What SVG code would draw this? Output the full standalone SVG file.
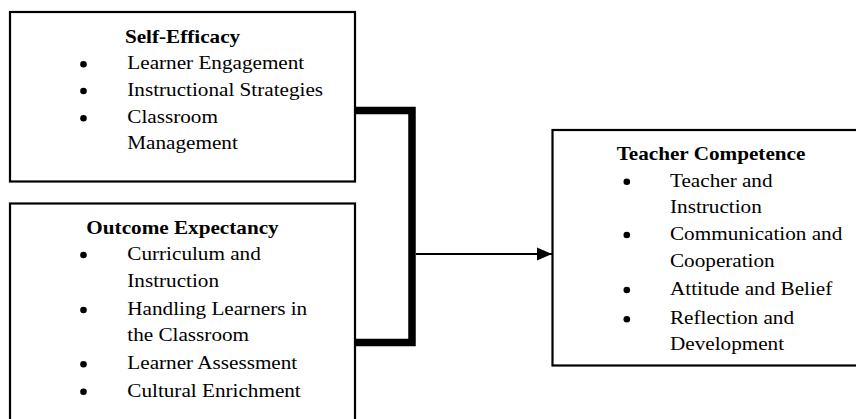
<svg xmlns="http://www.w3.org/2000/svg" width="856" height="419" viewBox="0 0 856 419">
  <style>
    .box { fill: #ffffff; stroke: #000000; stroke-width: 2.2; }
    .t { font-family: "Liberation Serif", "Times New Roman", serif; font-size: 19px; fill: #000000; }
    .h { font-weight: bold; text-anchor: middle; }
    .dot { fill: #000000; }
    .bracket { fill: none; stroke: #000000; stroke-width: 7.5; stroke-linejoin: miter; }
    .link { fill: none; stroke: #000000; stroke-width: 2; }
  </style>
  <defs>
    <marker id="arrowhead" markerWidth="16" markerHeight="14" refX="15" refY="7" orient="auto" markerUnits="userSpaceOnUse">
      <polygon points="0,0.5 15,7 0,13.5" fill="#000000"/>
    </marker>
  </defs>

  <rect x="0" y="0" width="856" height="419" fill="#ffffff"/>

  <!-- connectors: bracket joining the two source boxes and arrow into the target -->
  <g id="connectors">
    <path class="bracket" d="M355,110.5 H412 V342.5 H355"/>
    <path class="link" d="M416,254 H552" marker-end="url(#arrowhead)"/>
  </g>

  <g id="self-efficacy">
    <rect class="box" x="10" y="12" width="345" height="169.5"/>
    <text class="t h" transform="translate(182.5 42.5) scale(1.115 1)">Self-Efficacy</text>
    <circle class="dot" cx="83.5" cy="64.3" r="3.3"/>
    <text class="t" transform="translate(127.3 69.3) scale(1.115 1)">Learner Engagement</text>
    <circle class="dot" cx="83.5" cy="91" r="3.3"/>
    <text class="t" transform="translate(127.3 96) scale(1.115 1)">Instructional Strategies</text>
    <circle class="dot" cx="83.5" cy="118.3" r="3.3"/>
    <text class="t" transform="translate(127.3 123.3) scale(1.115 1)">Classroom</text>
    <text class="t" transform="translate(127.3 149.3) scale(1.115 1)">Management</text>
  </g>

  <g id="outcome-expectancy">
    <rect class="box" x="10" y="203.5" width="345" height="225"/>
    <text class="t h" transform="translate(182.5 233.5) scale(1.115 1)">Outcome Expectancy</text>
    <circle class="dot" cx="83.5" cy="255" r="3.3"/>
    <text class="t" transform="translate(127.3 260) scale(1.115 1)">Curriculum and</text>
    <text class="t" transform="translate(127.3 286.7) scale(1.115 1)">Instruction</text>
    <circle class="dot" cx="83.5" cy="310" r="3.3"/>
    <text class="t" transform="translate(127.3 315) scale(1.115 1)">Handling Learners in</text>
    <text class="t" transform="translate(127.3 341) scale(1.115 1)">the Classroom</text>
    <circle class="dot" cx="83.5" cy="364.3" r="3.3"/>
    <text class="t" transform="translate(127.3 369.3) scale(1.115 1)">Learner Assessment</text>
    <circle class="dot" cx="83.5" cy="391.7" r="3.3"/>
    <text class="t" transform="translate(127.3 396.7) scale(1.115 1)">Cultural Enrichment</text>
  </g>

  <g id="teacher-competence">
    <rect class="box" x="552.5" y="130" width="310" height="235.5"/>
    <text class="t h" transform="translate(711 160) scale(1.115 1)">Teacher Competence</text>
    <circle class="dot" cx="626.8" cy="181.7" r="3.3"/>
    <text class="t" transform="translate(670 186.7) scale(1.115 1)">Teacher and</text>
    <text class="t" transform="translate(670 212.7) scale(1.115 1)">Instruction</text>
    <circle class="dot" cx="626.8" cy="235" r="3.3"/>
    <text class="t" transform="translate(670 240) scale(1.115 1)">Communication and</text>
    <text class="t" transform="translate(670 266.7) scale(1.115 1)">Cooperation</text>
    <circle class="dot" cx="626.8" cy="290" r="3.3"/>
    <text class="t" transform="translate(670 295) scale(1.115 1)">Attitude and Belief</text>
    <circle class="dot" cx="626.8" cy="319.3" r="3.3"/>
    <text class="t" transform="translate(670 324.3) scale(1.115 1)">Reflection and</text>
    <text class="t" transform="translate(670 350) scale(1.115 1)">Development</text>
  </g>
</svg>
